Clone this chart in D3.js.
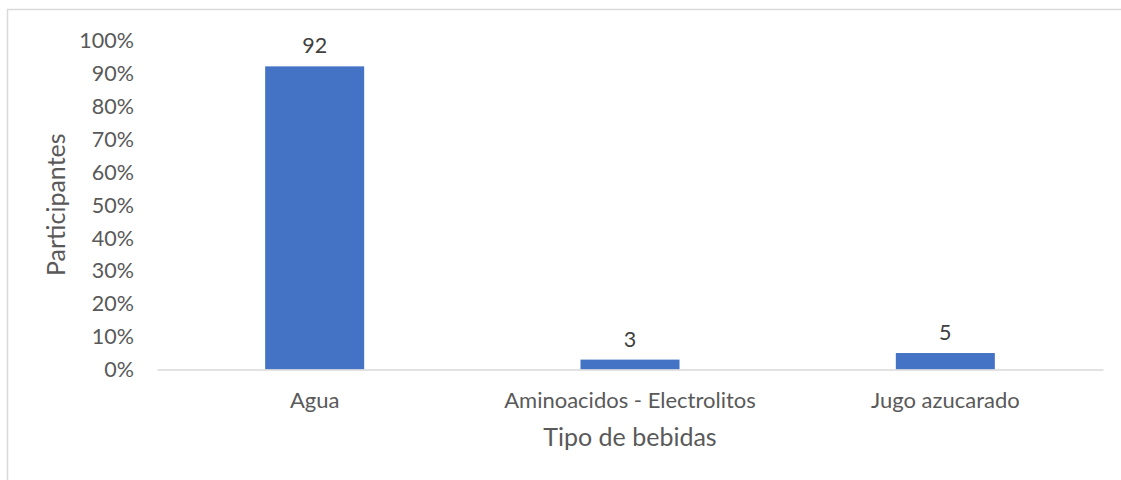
<!DOCTYPE html>
<html>
<head>
<meta charset="utf-8">
<script src="https://cdn.jsdelivr.net/npm/d3@7"></script>
<style>
  html, body { margin: 0; padding: 0; background: #fff; }
  svg { display: block; font-family: Lato, "Open Sans", sans-serif; }
</style>
</head>
<body>
<svg id="chart" width="1121" height="480"></svg>
<script>
const categories = ["Agua", "Aminoacidos - Electrolitos", "Jugo azucarado"];
const values = [92, 3, 5];
const yTicks = [0, 10, 20, 30, 40, 50, 60, 70, 80, 90, 100];
const yTitle = "Participantes";
const xTitle = "Tipo de bebidas";

const svg = d3.select("#chart");
const W = 1121, H = 480;
const plot = { left: 157, right: 1103, top: 40, bottom: 369.5 };

// chart border (light gray)
svg.append("rect")
  .attr("x", 7.5).attr("y", 9.5)
  .attr("width", W + 20).attr("height", H + 20)
  .attr("fill", "#fff").attr("stroke", "#d9d9d9").attr("stroke-width", 1.5);

const x = d3.scaleBand().domain(categories).range([plot.left, plot.right]).paddingInner(0.686).paddingOuter(0.343);
const xOuter = d3.scaleBand().domain(categories).range([plot.left, plot.right]);
const y = d3.scaleLinear().domain([0, 100]).range([plot.bottom, plot.top]);

// y axis (labels only)
const yAxis = svg.append("g")
  .attr("transform", `translate(${plot.left},0)`)
  .call(d3.axisLeft(y).tickValues(yTicks).tickFormat(d => d + "%").tickSize(0).tickPadding(23));
yAxis.select(".domain").remove();
yAxis.selectAll("text")
  .attr("fill", "#595959").attr("font-size", "21.5px")
  .attr("font-family", "Lato, sans-serif").attr("dy", "0.34em");

// bars
svg.append("g").selectAll("rect")
  .data(values)
  .join("rect")
  .attr("x", (d, i) => x(categories[i]))
  .attr("width", x.bandwidth())
  .attr("y", d => y(d))
  .attr("height", d => y(0) - y(d))
  .attr("fill", "#4472C4");

// x axis
const xAxis = svg.append("g")
  .attr("transform", `translate(0,${plot.bottom})`)
  .call(d3.axisBottom(xOuter).tickSize(0).tickPadding(23));
xAxis.select(".domain").attr("stroke", "#d9d9d9").attr("stroke-width", 1.5);
xAxis.selectAll("text")
  .attr("fill", "#595959").attr("font-size", "22px")
  .attr("font-family", "Lato, sans-serif");

// data labels
svg.append("g").selectAll("text")
  .data(values)
  .join("text")
  .attr("x", (d, i) => x(categories[i]) + x.bandwidth() / 2)
  .attr("y", d => y(d) - 13)
  .attr("text-anchor", "middle")
  .attr("fill", "#404040")
  .attr("font-size", "21.5px")
  .text(d => d);

// axis titles
svg.append("text")
  .attr("transform", `translate(65,${(plot.top + plot.bottom) / 2}) rotate(-90)`)
  .attr("text-anchor", "middle")
  .attr("fill", "#595959").attr("font-size", "25px")
  .text(yTitle);

svg.append("text")
  .attr("x", (plot.left + plot.right) / 2)
  .attr("y", 446)
  .attr("text-anchor", "middle")
  .attr("fill", "#595959").attr("font-size", "25px")
  .text(xTitle);
</script>
</body>
</html>
